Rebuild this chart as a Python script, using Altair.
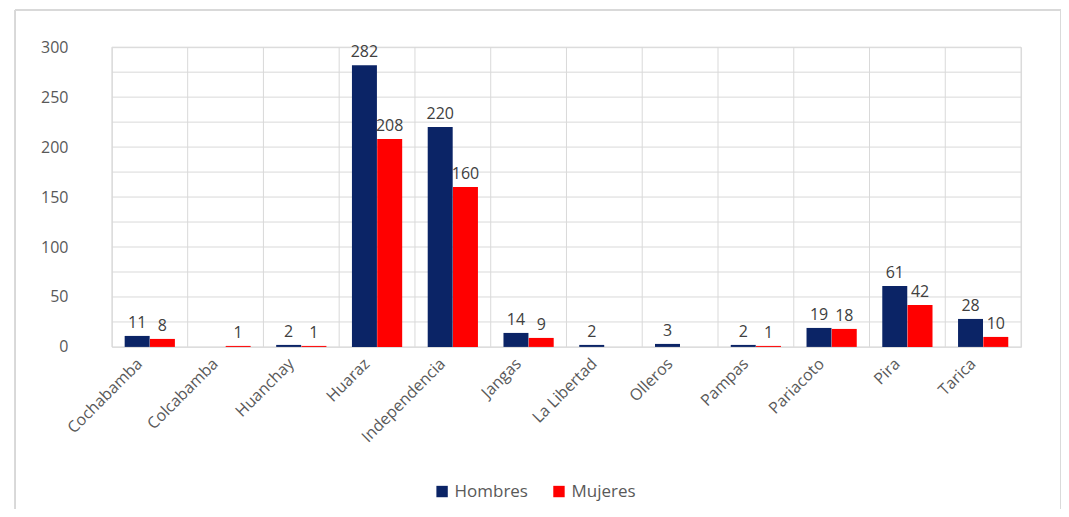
import altair as alt
import pandas as pd

categories = ["Cochabamba", "Colcabamba", "Huanchay", "Huaraz", "Independencia", "Jangas",
              "La Libertad", "Olleros", "Pampas", "Pariacoto", "Pira", "Tarica"]
hombres = [11, 0, 2, 282, 220, 14, 2, 3, 2, 19, 61, 28]
mujeres = [8, 1, 1, 208, 160, 9, 0, 0, 1, 18, 42, 10]
series = ["Hombres", "Mujeres"]
colors = ["#0B2466", "#FF0000"]

rows = []
for c, h, m in zip(categories, hombres, mujeres):
    rows.append({"cat": c, "serie": "Hombres", "v": h, "lab": str(h) if h > 0 else ""})
    rows.append({"cat": c, "serie": "Mujeres", "v": m, "lab": str(m) if m > 0 else ""})
df = pd.DataFrame(rows)
grid_df = pd.DataFrame({"cat": categories})

W, H = 910, 300
xs = alt.X("cat:N", sort=categories, title=None,
           scale=alt.Scale(paddingInner=0, paddingOuter=0),
           axis=alt.Axis(labelAngle=-45, labelFontSize=16, labelColor="#595959",
                         labelFont="Open Sans", domain=False, ticks=False, labelPadding=14,
                         labelOffset=-10))
ys = alt.Y("v:Q", title=None, scale=alt.Scale(domain=[0, 300]),
           axis=alt.Axis(values=[0, 50, 100, 150, 200, 250, 300], labelFontSize=16,
                         labelColor="#595959", labelFont="Open Sans", domain=False, ticks=False,
                         labelPadding=44, grid=False))

border = alt.Chart(grid_df).mark_rect(filled=False, stroke="#d9d9d9", strokeWidth=1).encode(
    x=alt.value(-97), x2=alt.value(950), y=alt.value(-37), y2=alt.value(468))

hgrid = alt.Chart(pd.DataFrame({"g": list(range(0, 301, 25))})).mark_rule(
    color="#d9d9d9", strokeWidth=1).encode(y=alt.Y("g:Q", scale=alt.Scale(domain=[0, 300])))

vgrid = alt.Chart(grid_df).mark_rule(color="#d9d9d9", strokeWidth=1).encode(
    x=alt.X("cat:N", sort=categories, bandPosition=0), y=alt.value(0), y2=alt.value(H))
vgrid_end = alt.Chart(grid_df.tail(1)).mark_rule(color="#d9d9d9", strokeWidth=1).encode(
    x=alt.X("cat:N", sort=categories, bandPosition=1), y=alt.value(0), y2=alt.value(H))

bars = alt.Chart(df).mark_bar(size=25).encode(
    x=xs, y=ys,
    xOffset=alt.XOffset("serie:N", sort=series, scale=alt.Scale(paddingOuter=0.5)),
    color=alt.Color("serie:N", sort=series, scale=alt.Scale(domain=series, range=colors),
                    legend=alt.Legend(title=None, orient="none", direction="horizontal",
                                      legendX=322, legendY=436, symbolType="square",
                                      symbolSize=130, labelFontSize=17, labelColor="#595959",
                                      labelFont="Open Sans", columnPadding=22,
                                      symbolStrokeWidth=0)))

texts = alt.Chart(df).mark_text(dy=-13, fontSize=16, color="#404040", font="Open Sans").encode(
    x=alt.X("cat:N", sort=categories), y="v:Q",
    xOffset=alt.XOffset("serie:N", sort=series),
    text="lab:N")

chart = alt.layer(border, hgrid, vgrid, vgrid_end, bars, texts).properties(
    width=W, height=H,
    autosize=alt.AutoSizeParams(type="none"),
    padding={"left": 104, "top": 39, "right": 40, "bottom": 162},
).configure_view(stroke=None).configure(background="white")

chart.save("out.html", embed_options={"renderer": "svg", "actions": False})
